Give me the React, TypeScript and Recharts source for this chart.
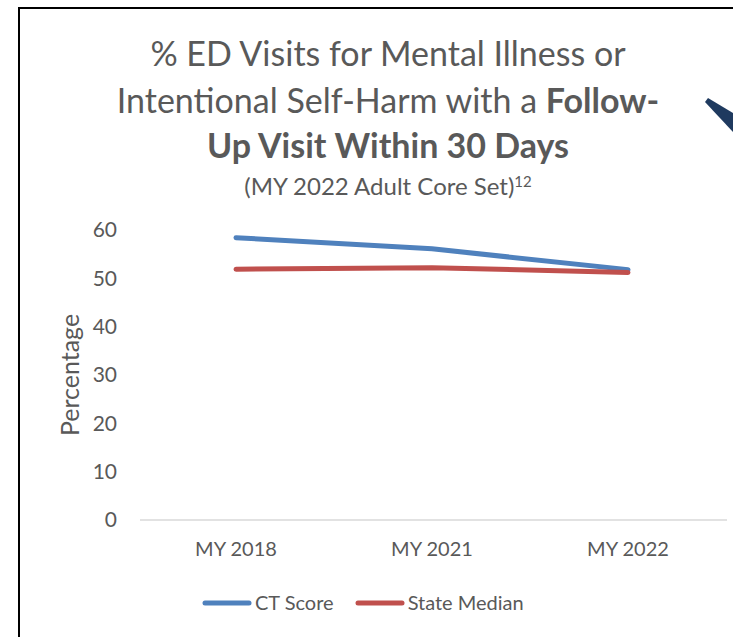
import React from 'react';
import { LineChart, Line, XAxis, YAxis, Legend } from 'recharts';

const categories = ['MY 2018', 'MY 2021', 'MY 2022'];
const ctScore = [58.4, 56.1, 51.8];
const stateMedian = [51.9, 52.2, 51.2];
const yTicks = [0, 10, 20, 30, 40, 50, 60];

const seriesDefs = [
  { key: 'ct', name: 'CT Score', color: '#4F81BD' },
  { key: 'median', name: 'State Median', color: '#C0504D' },
];

const data = categories.map((c, i) => ({ cat: c, ct: ctScore[i], median: stateMedian[i] }));

const FONT = 'Lato, "Open Sans", sans-serif';
const GRAY = '#595959';

const LegendContent = () => (
  <div style={{ display: 'flex', justifyContent: 'flex-start', alignItems: 'center', fontFamily: FONT, fontSize: 20, lineHeight: '25px', height: 25, color: GRAY, paddingLeft: 202 }}>
    {seriesDefs.map((s, i) => (
      <div key={s.key} style={{ display: 'flex', alignItems: 'center', marginRight: i === 0 ? 21 : 0 }}>
        <svg width={50} height={10} style={{ display: 'block' }}>
          <line x1={3} y1={5} x2={47} y2={5} stroke={s.color} strokeWidth={5} strokeLinecap="round" />
        </svg>
        <span style={{ marginLeft: 3 }}>{s.name}</span>
      </div>
    ))}
  </div>
);

export default function App() {
  return (
    <div style={{ position: 'absolute', left: 0, top: 0, width: 733, height: 637, overflow: 'hidden', background: '#fff' }}>
      <div style={{ position: 'absolute', left: 18, top: 7, right: -10, bottom: -10, borderLeft: '2px solid #000', borderTop: '2px solid #000' }} />
      <svg width={733} height={637} style={{ position: 'absolute', left: 0, top: 0 }}>
        <polygon points="705,102 708,98 733,113 733,132" fill="#1F3A5F" />
      </svg>
      <div style={{ position: 'absolute', left: 0, width: 776, top: 0, textAlign: 'center', fontFamily: FONT, color: GRAY }}>
        <div style={{ position: 'absolute', left: 0, right: 0, top: 33, fontSize: 34, lineHeight: '40px' }}>% ED Visits for Mental Illness or</div>
        <div style={{ position: 'absolute', left: 0, right: 0, top: 80, fontSize: 34, lineHeight: '40px' }}>Intentional Self-Harm with a <b>Follow-</b></div>
        <div style={{ position: 'absolute', left: 0, right: 0, top: 125, fontSize: 34, lineHeight: '40px', fontWeight: 700 }}>Up Visit Within 30 Days</div>
        <div style={{ position: 'absolute', left: 0, right: 0, top: 172, fontSize: 24, lineHeight: '28px' }}>(MY 2022 Adult Core Set)<sup style={{ fontSize: 15, verticalAlign: 'top', lineHeight: '18px' }}>12</sup></div>
      </div>
      <div style={{ position: 'absolute', left: 0, top: 0 }}>
        <LineChart width={733} height={637} data={data} margin={{ top: 230, right: 6, left: 0, bottom: 0 }}>
          <XAxis
            dataKey="cat"
            height={92}
            padding={{ left: 96, right: 99 }}
            axisLine={{ stroke: '#D9D9D9', strokeWidth: 1.5 }}
            tickLine={false}
            tickSize={0}
            tickMargin={22}
            tick={{ fill: GRAY, fontSize: 20, fontFamily: FONT }}
          />
          <YAxis
            width={140}
            domain={[0, 60]}
            ticks={yTicks}
            axisLine={false}
            tickLine={false}
            tickSize={0}
            tickMargin={23}
            tick={{ fill: GRAY, fontSize: 21, fontFamily: FONT }}
            label={{ value: 'Percentage', angle: -90, position: 'center', fill: GRAY, fontSize: 25, fontFamily: FONT }}
          />
          <Legend verticalAlign="bottom" wrapperStyle={{ top: 590, left: 0, width: 733, height: 25 }} content={<LegendContent />} />
          {seriesDefs.map((s) => (
            <Line
              key={s.key}
              type="linear"
              dataKey={s.key}
              name={s.name}
              stroke={s.color}
              strokeWidth={5}
              strokeLinecap="round"
              dot={false}
              activeDot={false}
              isAnimationActive={false}
            />
          ))}
        </LineChart>
      </div>
    </div>
  );
}
